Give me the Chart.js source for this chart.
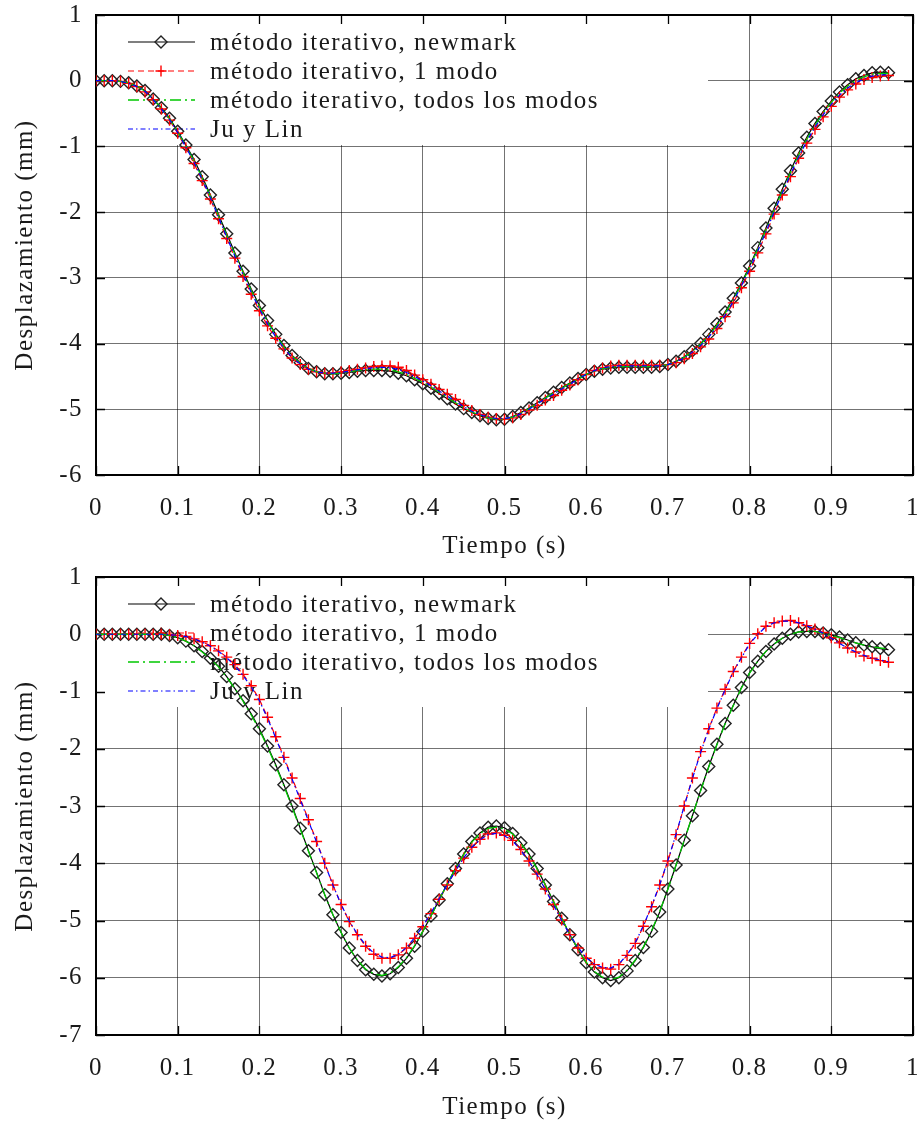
<!DOCTYPE html>
<html>
<head>
<meta charset="utf-8">
<script src="https://cdn.jsdelivr.net/npm/chart.js@4.4.1/dist/chart.umd.min.js"></script>
<style>
  html, body { margin: 0; padding: 0; background: #fff; }
  canvas { display: block; }
</style>
</head>
<body>
<canvas id="arriba" width="923" height="563"></canvas>
<canvas id="abajo" width="923" height="563"></canvas>
<script>
// tiempo (s)
const tiempo = [
  0.00, 0.01, 0.02, 0.03, 0.04, 0.05, 0.06, 0.07, 0.08, 0.09,
  0.10, 0.11, 0.12, 0.13, 0.14, 0.15, 0.16, 0.17, 0.18, 0.19,
  0.20, 0.21, 0.22, 0.23, 0.24, 0.25, 0.26, 0.27, 0.28, 0.29,
  0.30, 0.31, 0.32, 0.33, 0.34, 0.35, 0.36, 0.37, 0.38, 0.39,
  0.40, 0.41, 0.42, 0.43, 0.44, 0.45, 0.46, 0.47, 0.48, 0.49,
  0.50, 0.51, 0.52, 0.53, 0.54, 0.55, 0.56, 0.57, 0.58, 0.59,
  0.60, 0.61, 0.62, 0.63, 0.64, 0.65, 0.66, 0.67, 0.68, 0.69,
  0.70, 0.71, 0.72, 0.73, 0.74, 0.75, 0.76, 0.77, 0.78, 0.79,
  0.80, 0.81, 0.82, 0.83, 0.84, 0.85, 0.86, 0.87, 0.88, 0.89,
  0.90, 0.91, 0.92, 0.93, 0.94, 0.95, 0.96, 0.97
];

const etiquetas = [
  'método iterativo, newmark',
  'método iterativo, 1 modo',
  'método iterativo, todos los modos',
  'Ju y Lin'
];

const ticksX = [0, 0.1, 0.2, 0.3, 0.4, 0.5, 0.6, 0.7, 0.8, 0.9, 1];
const ticksYArriba = [1, 0, -1, -2, -3, -4, -5, -6];
const ticksYAbajo = [1, 0, -1, -2, -3, -4, -5, -6, -7];

// grafico superior (mm)
const newmarkArriba = [
  0, 0, 0, -0.01, -0.03, -0.08, -0.15, -0.28, -0.41, -0.57,
  -0.77, -0.98, -1.2, -1.46, -1.74, -2.04, -2.33, -2.62, -2.9, -3.17,
  -3.42, -3.65, -3.86, -4.03, -4.18, -4.29, -4.38, -4.43, -4.46, -4.46,
  -4.45, -4.44, -4.42, -4.41, -4.41, -4.41, -4.42, -4.45, -4.49, -4.55,
  -4.61, -4.68, -4.76, -4.84, -4.92, -4.99, -5.05, -5.1, -5.14, -5.16,
  -5.15, -5.11, -5.05, -4.98, -4.9, -4.82, -4.74, -4.67, -4.6, -4.53,
  -4.47, -4.42, -4.39, -4.37, -4.36, -4.36, -4.36, -4.36, -4.36, -4.35,
  -4.32, -4.27, -4.2, -4.11, -4.0, -3.86, -3.7, -3.52, -3.31, -3.08,
  -2.82, -2.54, -2.24, -1.94, -1.65, -1.37, -1.1, -0.86, -0.65, -0.47,
  -0.31, -0.17, -0.06, 0.03, 0.08, 0.12, 0.13, 0.12
];
const unModoArriba = [
  0, 0, 0, -0.01, -0.04, -0.09, -0.17, -0.29, -0.43, -0.6,
  -0.8, -1.02, -1.26, -1.52, -1.8, -2.1, -2.4, -2.7, -2.98, -3.25,
  -3.5, -3.73, -3.92, -4.08, -4.22, -4.32, -4.39, -4.43, -4.45, -4.45,
  -4.43, -4.41, -4.39, -4.37, -4.35, -4.34, -4.34, -4.36, -4.41, -4.48,
  -4.55, -4.62, -4.7, -4.77, -4.85, -4.94, -5.02, -5.08, -5.12, -5.14,
  -5.15, -5.13, -5.08, -5.01, -4.94, -4.86, -4.79, -4.71, -4.63, -4.55,
  -4.47, -4.41, -4.37, -4.34, -4.33, -4.33, -4.33, -4.33, -4.33, -4.33,
  -4.32, -4.29, -4.23, -4.15, -4.05, -3.93, -3.77, -3.59, -3.38, -3.15,
  -2.9, -2.62, -2.33, -2.03, -1.74, -1.46, -1.18, -0.95, -0.74, -0.55,
  -0.39, -0.25, -0.14, -0.05, 0.02, 0.05, 0.07, 0.08
];
const todosArriba = [
  0, 0, 0, -0.01, -0.03, -0.08, -0.16, -0.28, -0.42, -0.58,
  -0.78, -0.99, -1.22, -1.48, -1.76, -2.06, -2.35, -2.64, -2.92, -3.19,
  -3.44, -3.67, -3.87, -4.05, -4.19, -4.3, -4.38, -4.43, -4.45, -4.46,
  -4.45, -4.43, -4.41, -4.4, -4.39, -4.39, -4.4, -4.43, -4.47, -4.53,
  -4.59, -4.66, -4.74, -4.82, -4.9, -4.97, -5.04, -5.09, -5.13, -5.15,
  -5.15, -5.12, -5.06, -4.99, -4.91, -4.83, -4.75, -4.68, -4.61, -4.54,
  -4.47, -4.42, -4.38, -4.36, -4.35, -4.35, -4.35, -4.35, -4.35, -4.34,
  -4.32, -4.27, -4.21, -4.12, -4.01, -3.88, -3.72, -3.54, -3.33, -3.1,
  -2.84, -2.56, -2.27, -1.97, -1.68, -1.4, -1.13, -0.89, -0.68, -0.49,
  -0.33, -0.19, -0.08, 0.01, 0.06, 0.1, 0.11, 0.11
];
const juLinArriba = [
  0, 0, 0, -0.01, -0.04, -0.09, -0.16, -0.29, -0.43, -0.59,
  -0.79, -1.01, -1.24, -1.5, -1.78, -2.08, -2.38, -2.67, -2.95, -3.22,
  -3.47, -3.7, -3.9, -4.07, -4.21, -4.31, -4.39, -4.43, -4.45, -4.45,
  -4.44, -4.42, -4.4, -4.38, -4.37, -4.36, -4.37, -4.39, -4.44, -4.5,
  -4.57, -4.64, -4.72, -4.8, -4.88, -4.96, -5.03, -5.08, -5.12, -5.14,
  -5.14, -5.12, -5.07, -5.0, -4.92, -4.84, -4.77, -4.69, -4.62, -4.54,
  -4.47, -4.41, -4.37, -4.35, -4.34, -4.34, -4.34, -4.34, -4.34, -4.34,
  -4.32, -4.28, -4.22, -4.13, -4.03, -3.9, -3.75, -3.57, -3.36, -3.12,
  -2.87, -2.59, -2.3, -2.0, -1.71, -1.43, -1.16, -0.92, -0.71, -0.52,
  -0.36, -0.22, -0.11, -0.03, 0.03, 0.07, 0.09, 0.09
];

// grafico inferior (mm)
const newmarkAbajo = [
  0, 0, 0, 0, 0, 0, 0, 0, 0, -0.02,
  -0.06, -0.12, -0.2, -0.3, -0.42, -0.56, -0.74, -0.95, -1.16, -1.39,
  -1.65, -1.95, -2.28, -2.63, -3.0, -3.39, -3.78, -4.16, -4.55, -4.9,
  -5.21, -5.48, -5.7, -5.86, -5.94, -5.97, -5.93, -5.82, -5.66, -5.45,
  -5.19, -4.92, -4.64, -4.36, -4.09, -3.84, -3.62, -3.47, -3.37, -3.35,
  -3.38, -3.48, -3.64, -3.84, -4.09, -4.38, -4.67, -4.96, -5.25, -5.51,
  -5.74, -5.9, -6.0, -6.05, -6.0, -5.88, -5.7, -5.47, -5.19, -4.85,
  -4.45, -4.03, -3.6, -3.17, -2.73, -2.31, -1.92, -1.56, -1.24, -0.93,
  -0.67, -0.47, -0.3, -0.17, -0.07, 0.0, 0.04, 0.05, 0.05, 0.02,
  -0.01, -0.05, -0.1, -0.15, -0.19, -0.22, -0.25, -0.27
];
const unModoAbajo = [
  0, 0, 0, 0, 0, 0, 0, 0, 0, -0.01,
  -0.02, -0.04, -0.08, -0.13, -0.2, -0.29, -0.4, -0.53, -0.7, -0.9,
  -1.14, -1.45, -1.79, -2.15, -2.51, -2.87, -3.24, -3.62, -4.0, -4.38,
  -4.72, -5.02, -5.25, -5.45, -5.59, -5.66, -5.66, -5.6, -5.48, -5.31,
  -5.11, -4.88, -4.63, -4.38, -4.13, -3.91, -3.72, -3.58, -3.49, -3.47,
  -3.51, -3.6, -3.76, -3.96, -4.19, -4.45, -4.72, -4.99, -5.25, -5.48,
  -5.66, -5.77, -5.83, -5.85, -5.77, -5.61, -5.4, -5.1, -4.76, -4.38,
  -3.96, -3.5, -3.0, -2.51, -2.05, -1.65, -1.29, -0.96, -0.65, -0.4,
  -0.16, 0.01, 0.14, 0.2, 0.23, 0.24, 0.2, 0.15, 0.09, 0.03,
  -0.06, -0.15, -0.24, -0.31, -0.38, -0.42, -0.46, -0.49
];
const todosAbajo = [
  0, 0, 0, 0, 0, 0, 0, 0, 0, -0.02,
  -0.06, -0.12, -0.2, -0.31, -0.43, -0.57, -0.75, -0.95, -1.17, -1.41,
  -1.67, -1.97, -2.3, -2.65, -3.02, -3.4, -3.79, -4.17, -4.55, -4.9,
  -5.21, -5.48, -5.69, -5.85, -5.93, -5.96, -5.92, -5.81, -5.65, -5.44,
  -5.19, -4.92, -4.64, -4.36, -4.09, -3.85, -3.63, -3.48, -3.39, -3.37,
  -3.4, -3.49, -3.65, -3.85, -4.1, -4.38, -4.67, -4.96, -5.24, -5.5,
  -5.73, -5.89, -5.99, -6.03, -5.99, -5.87, -5.69, -5.46, -5.18, -4.84,
  -4.45, -4.03, -3.6, -3.17, -2.74, -2.32, -1.93, -1.57, -1.25, -0.94,
  -0.68, -0.47, -0.3, -0.17, -0.07, 0.0, 0.04, 0.05, 0.05, 0.02,
  -0.02, -0.06, -0.11, -0.15, -0.19, -0.22, -0.24, -0.26
];
const juLinAbajo = [
  0, 0, 0, 0, 0, 0, 0, 0, 0, -0.01,
  -0.02, -0.04, -0.08, -0.14, -0.21, -0.3, -0.41, -0.55, -0.72, -0.92,
  -1.16, -1.47, -1.81, -2.17, -2.53, -2.89, -3.26, -3.63, -4.01, -4.38,
  -4.72, -5.01, -5.24, -5.43, -5.57, -5.64, -5.65, -5.59, -5.47, -5.3,
  -5.1, -4.87, -4.62, -4.37, -4.13, -3.91, -3.72, -3.59, -3.5, -3.48,
  -3.52, -3.61, -3.77, -3.97, -4.2, -4.46, -4.73, -5.0, -5.25, -5.47,
  -5.65, -5.76, -5.82, -5.83, -5.76, -5.6, -5.39, -5.09, -4.75, -4.37,
  -3.95, -3.49, -3.0, -2.52, -2.07, -1.66, -1.3, -0.97, -0.66, -0.41,
  -0.17, 0.0, 0.13, 0.2, 0.23, 0.23, 0.2, 0.15, 0.09, 0.02,
  -0.07, -0.16, -0.24, -0.31, -0.37, -0.42, -0.45, -0.48
];

const FUENTE = "'Liberation Serif', 'Times New Roman', serif";
const ESPACIADO = '1.5px';
Chart.defaults.font.family = FUENTE;
Chart.defaults.font.size = 25;
Chart.defaults.color = '#1a1a1a';

// estilo gnuplot de cada serie
const estilos = [
  { color: '#000000', ancho: 1.2, trazo: [], punto: 'rectRot', radio: 6, pcolor: '#222222' },
  { color: '#ff0000', ancho: 1.2, trazo: [6, 4], punto: 'cross', radio: 5.5, pcolor: '#ff0000' },
  { color: '#00c800', ancho: 1.3, trazo: [11, 4, 2, 4], punto: false, radio: 0 },
  { color: '#0000ff', ancho: 1.2, trazo: [5, 3, 1.5, 3], punto: false, radio: 0 }
];

function marcador(ctx, tipo, x, y, r) {
  ctx.beginPath();
  if (tipo === 'rectRot') {
    ctx.moveTo(x - r, y); ctx.lineTo(x, y - r); ctx.lineTo(x + r, y); ctx.lineTo(x, y + r); ctx.closePath();
  } else if (tipo === 'cross') {
    ctx.moveTo(x - r, y); ctx.lineTo(x + r, y); ctx.moveTo(x, y - r); ctx.lineTo(x, y + r);
  }
  ctx.stroke();
}

const marcoGnuplot = {
  id: 'marcoGnuplot',
  beforeDraw(chart) {
    // letra algo mas ancha, como la del original
    chart.ctx.letterSpacing = ESPACIADO;
  },
  beforeDatasetsDraw(chart) {
    const { ctx, chartArea: a, scales } = chart;
    ctx.save();
    // la caja de la leyenda tapa la rejilla
    ctx.fillStyle = '#ffffff';
    ctx.fillRect(a.left + 1, a.top + 1, 707 - a.left, 129);

    // marcas hacia dentro en los cuatro lados
    ctx.strokeStyle = '#000';
    ctx.lineWidth = 1.3;
    ctx.beginPath();
    scales.x.ticks.forEach(t => {
      const px = Math.round(scales.x.getPixelForValue(t.value)) + 0.5;
      ctx.moveTo(px, a.bottom); ctx.lineTo(px, a.bottom - 9);
      ctx.moveTo(px, a.top); ctx.lineTo(px, a.top + 9);
    });
    scales.y.ticks.forEach(t => {
      const py = Math.round(scales.y.getPixelForValue(t.value)) + 0.5;
      ctx.moveTo(a.left, py); ctx.lineTo(a.left + 9, py);
      ctx.moveTo(a.right, py); ctx.lineTo(a.right - 9, py);
    });
    ctx.stroke();

    ctx.lineWidth = 2;
    ctx.strokeRect(a.left, a.top, a.right - a.left, a.bottom - a.top);

    // leyenda
    ctx.font = '25px ' + FUENTE;
    ctx.letterSpacing = ESPACIADO;
    ctx.textBaseline = 'middle';
    ctx.textAlign = 'left';
    etiquetas.forEach((txt, i) => {
      const e = estilos[i];
      const y = a.top + 27 + i * 29;
      ctx.strokeStyle = e.color;
      ctx.lineWidth = e.ancho;
      ctx.setLineDash(e.trazo);
      ctx.beginPath();
      ctx.moveTo(a.left + 32, y); ctx.lineTo(a.left + 99, y);
      ctx.stroke();
      ctx.setLineDash([]);
      if (e.punto) {
        ctx.strokeStyle = e.pcolor;
        ctx.lineWidth = 1.4;
        marcador(ctx, e.punto, a.left + 65, y, e.radio);
      }
      ctx.fillStyle = '#1a1a1a';
      ctx.fillText(txt, a.left + 114, y + 1);
    });
    ctx.restore();
  }
};

function serie(valores, i) {
  const e = estilos[i];
  return {
    label: etiquetas[i],
    data: tiempo.map((t, k) => ({ x: t, y: valores[k] })),
    borderColor: e.color,
    borderWidth: e.ancho,
    borderDash: e.trazo,
    pointStyle: e.punto || 'circle',
    pointRadius: e.radio,
    pointBorderColor: e.pcolor || e.color,
    pointBackgroundColor: 'rgba(0,0,0,0)',
    pointBorderWidth: 1.4,
    tension: 0,
    fill: false,
    order: 4 - i
  };
}

const formato = v => String(Math.round(v * 10) / 10);

function grafico(id, series, ticksY, arriba, altoEjeX, margenTitulo) {
  return new Chart(document.getElementById(id), {
    type: 'line',
    data: { datasets: series.map((v, i) => serie(v, i)) },
    options: {
      responsive: false,
      animation: false,
      devicePixelRatio: 1,
      layout: { padding: { top: arriba, right: 10, left: 0, bottom: 0 } },
      plugins: { legend: { display: false }, tooltip: { enabled: false } },
      scales: {
        x: {
          type: 'linear',
          min: 0, max: 1,
          afterBuildTicks: s => { s.ticks = ticksX.map(v => ({ value: v })); },
          afterFit: s => { s.height = altoEjeX; s.paddingLeft = 0; s.paddingRight = 0; },
          ticks: { padding: 18, maxRotation: 0, autoSkip: false, callback: formato },
          grid: { color: 'rgba(0,0,0,0.55)', lineWidth: 1, drawTicks: false },
          border: { display: false },
          title: { display: true, text: 'Tiempo (s)', padding: { top: 0, bottom: margenTitulo } }
        },
        y: {
          type: 'linear',
          min: ticksY[ticksY.length - 1], max: ticksY[0],
          afterBuildTicks: s => { s.ticks = ticksY.map(v => ({ value: v })); },
          afterFit: s => { s.width = 96; s.paddingTop = 0; s.paddingBottom = 0; },
          ticks: { padding: 13, autoSkip: false, callback: formato },
          grid: { color: 'rgba(0,0,0,0.55)', lineWidth: 1, drawTicks: false },
          border: { display: false },
          title: { display: true, text: 'Desplazamiento (mm)', padding: { top: 10, bottom: 0 } }
        }
      }
    },
    plugins: [marcoGnuplot]
  });
}

grafico('arriba', [newmarkArriba, unModoArriba, todosArriba, juLinArriba], ticksYArriba, 15, 88, 2);
grafico('abajo', [newmarkAbajo, unModoAbajo, todosAbajo, juLinAbajo], ticksYAbajo, 14, 91, 4);
</script>
</body>
</html>
